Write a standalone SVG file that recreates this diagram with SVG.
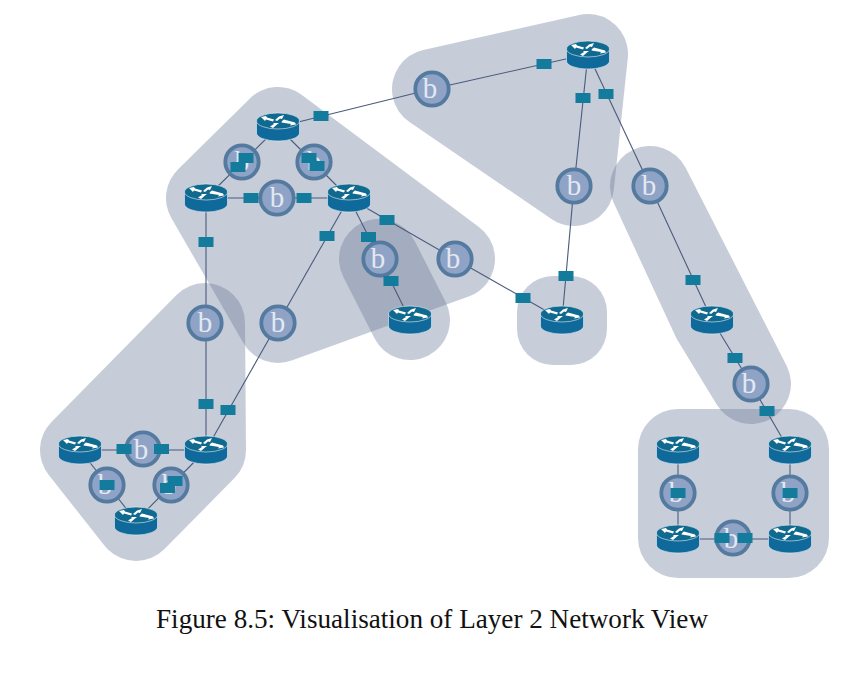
<svg xmlns="http://www.w3.org/2000/svg" width="858" height="684" viewBox="0 0 858 684">
<style>
.reg{fill:#677796;stroke:#677796;stroke-width:80;stroke-linejoin:round;opacity:.36}
.box{fill:#677796;opacity:.36}
.c line{stroke:#4a5b7c;stroke-width:1.1}
.b circle{fill:#8fa3c6;stroke:#557a9f;stroke-width:3.8}
.b text{font-family:"Liberation Serif",serif;font-size:29px;fill:#e3e8f1;text-anchor:middle}
.l rect{fill:#137b9c;width:15px;height:10px}
.cap{font-family:"Liberation Serif",serif;font-size:26.500px;fill:#111}
</style>
<defs>
<g id="rt">
<path d="M-21.500-6V6A21.500 8 0 0 0 21.500 6V-6Z" fill="#0f6a9b" stroke="#e6eef3" stroke-width=".6"/>
<ellipse cx="0" cy="-6" rx="21.500" ry="8" fill="#10698f" stroke="#e6eef3" stroke-width=".6"/>
<g fill="#fff">
<path d="M-17-10L-12-11-11-9.500-4-7.500-5-5.500-12-7.500-13-6Z"/>
<path d="M6-12L1-10.500-3-7-1-6 2-8.500 4-8Z"/>
<path d="M4-6L6-7.500 17-4.500 18-2.500 12-1.500 13-3 3.500-4.500Z"/>
<path d="M-8-.5L-5 1-1-2.500 1-4-5-4-4-3Z"/>
</g>
</g>
</defs>
<rect width="858" height="684" fill="#fff"/>
<g id="regions">
<polygon class="reg" points="278,127 455,259 278,323 206,198"/>
<polygon class="reg" points="432,89 588,54 574,186"/>
<polygon class="reg" points="650,186 751,384 712,320"/>
<polygon class="reg" points="379,259 410,320"/>
<polygon class="reg" points="205,323 206,450 136,521 80,450"/>
<rect class="box" x="517" y="276" width="90" height="89" rx="36"/>
<rect class="box" x="638" y="409" width="191" height="169" rx="40"/>
</g>
<g id="connectors" class="c">
<line x1="278" y1="127" x2="432" y2="89"/>
<line x1="432" y1="89" x2="588" y2="54"/>
<line x1="588" y1="54" x2="574" y2="186"/>
<line x1="574" y1="186" x2="562" y2="320"/>
<line x1="588" y1="54" x2="650" y2="186"/>
<line x1="650" y1="186" x2="712" y2="320"/>
<line x1="712" y1="320" x2="751" y2="384"/>
<line x1="751" y1="384" x2="789" y2="450"/>
<line x1="278" y1="127" x2="206" y2="198"/>
<line x1="278" y1="127" x2="349" y2="198"/>
<line x1="206" y1="198" x2="349" y2="198"/>
<line x1="206" y1="198" x2="206" y2="450"/>
<line x1="349" y1="198" x2="278" y2="323"/>
<line x1="278" y1="323" x2="206" y2="450"/>
<line x1="349" y1="198" x2="380" y2="259"/>
<line x1="380" y1="259" x2="410" y2="320"/>
<line x1="349" y1="198" x2="455" y2="259"/>
<line x1="455" y1="259" x2="562" y2="320"/>
<line x1="80" y1="450" x2="206" y2="450"/>
<line x1="80" y1="450" x2="136" y2="521"/>
<line x1="206" y1="450" x2="136" y2="521"/>
<line x1="678" y1="450" x2="678" y2="539"/>
<line x1="790" y1="450" x2="790" y2="539"/>
<line x1="678" y1="539" x2="790" y2="539"/>
</g>
<g id="r1"><use href="#rt" x="278" y="127"/></g>
<g id="r2"><use href="#rt" x="206" y="198"/></g>
<g id="r3"><use href="#rt" x="349" y="198"/></g>
<g id="r4"><use href="#rt" x="410" y="320"/></g>
<g id="r5"><use href="#rt" x="562" y="320"/></g>
<g id="r6"><use href="#rt" x="588" y="55"/></g>
<g id="r7"><use href="#rt" x="712" y="320"/></g>
<g id="r8"><use href="#rt" x="80" y="450"/></g>
<g id="r9"><use href="#rt" x="206" y="450"/></g>
<g id="r10"><use href="#rt" x="136" y="521"/></g>
<g id="r11"><use href="#rt" x="678" y="450"/></g>
<g id="r12"><use href="#rt" x="790" y="450"/></g>
<g id="r13"><use href="#rt" x="678" y="539"/></g>
<g id="r14"><use href="#rt" x="790" y="539"/></g>
<g id="b1" class="b"><circle cx="277" cy="198" r="16.700"/><text x="277" y="207">b</text></g>
<g id="b2" class="b"><circle cx="242" cy="162" r="16.700"/><text x="242" y="171">b</text></g>
<g id="b3" class="b"><circle cx="314" cy="162" r="16.700"/><text x="314" y="171">b</text></g>
<g id="b4" class="b"><circle cx="432" cy="89" r="16.700"/><text x="430" y="98">b</text></g>
<g id="b5" class="b"><circle cx="574" cy="186" r="16.700"/><text x="574" y="195">b</text></g>
<g id="b6" class="b"><circle cx="650" cy="186" r="16.700"/><text x="649" y="195">b</text></g>
<g id="b7" class="b"><circle cx="205" cy="323" r="16.700"/><text x="205" y="332">b</text></g>
<g id="b8" class="b"><circle cx="278" cy="323" r="16.700"/><text x="278" y="332">b</text></g>
<g id="b9" class="b"><circle cx="380" cy="259" r="16.700"/><text x="378" y="268">b</text></g>
<g id="b10" class="b"><circle cx="455" cy="259" r="16.700"/><text x="453" y="268">b</text></g>
<g id="b11" class="b"><circle cx="751" cy="384" r="16.700"/><text x="749" y="393">b</text></g>
<g id="b12" class="b"><circle cx="143" cy="449" r="16.700"/><text x="141" y="459">b</text></g>
<g id="b13" class="b"><circle cx="107" cy="485" r="16.700"/><text x="105" y="494">b</text></g>
<g id="b14" class="b"><circle cx="171" cy="485" r="16.700"/><text x="169" y="494">b</text></g>
<g id="b15" class="b"><circle cx="678" cy="493" r="16.700"/><text x="676" y="502">b</text></g>
<g id="b16" class="b"><circle cx="790" cy="493" r="16.700"/><text x="788" y="502">b</text></g>
<g id="b17" class="b"><circle cx="733" cy="538" r="16.700"/><text x="731" y="548">b</text></g>
<g id="link-labels" class="l">
<rect x="313.500" y="111"/><rect x="536.500" y="59"/><rect x="575.500" y="93"/><rect x="598.500" y="89"/>
<rect x="238.500" y="153"/><rect x="230.500" y="162"/><rect x="301.500" y="153"/><rect x="309.500" y="161"/>
<rect x="243.500" y="193"/><rect x="296.500" y="193"/><rect x="198.500" y="237"/><rect x="319.500" y="231"/>
<rect x="361" y="232"/><rect x="379.500" y="215"/><rect x="383.500" y="276"/><rect x="515.500" y="293"/>
<rect x="558.500" y="271"/><rect x="685.500" y="275"/><rect x="727.500" y="353"/><rect x="759.500" y="406"/>
<rect x="198.500" y="399"/><rect x="220.500" y="405"/><rect x="116.500" y="444"/><rect x="154" y="444"/>
<rect x="99.500" y="480"/><rect x="167.500" y="476"/><rect x="160" y="483"/>
<rect x="670.500" y="488"/><rect x="782.500" y="488"/><rect x="714.500" y="533"/><rect x="737.500" y="533"/>
</g>
<text class="cap" x="156" y="628" textLength="552" lengthAdjust="spacingAndGlyphs">Figure 8.5: Visualisation of Layer 2 Network View</text>
</svg>
